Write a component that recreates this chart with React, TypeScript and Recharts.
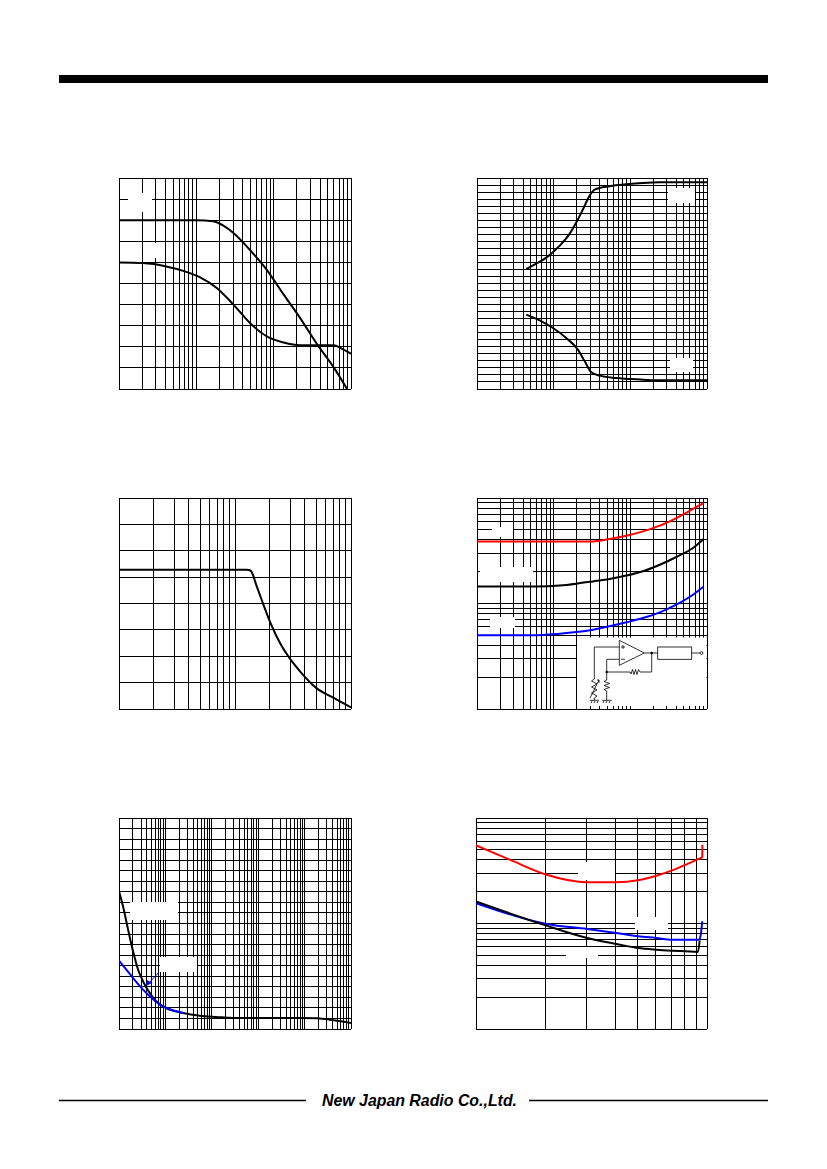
import React from "react";
import { LineChart, Line, XAxis, YAxis, CartesianGrid, ReferenceArea } from "recharts";

// grid ticks (no labels are printed in the reference, only the grid)
const logTicks1 = [1, 2, 3, 4, 5, 6, 7, 8, 9, 10];
const logTicks2 = [1, 2, 3, 4, 5, 6, 7, 8, 9, 10, 20, 30, 40, 50, 60, 70, 80, 90, 100];
const logTicks3 = [
  1, 2, 3, 4, 5, 6, 7, 8, 9, 10, 20, 30, 40, 50, 60, 70, 80, 90, 100,
  200, 300, 400, 500, 600, 700, 800, 900, 1000,
];
const logTicks5 = [
  1, 2, 3, 4, 5, 6, 7, 8, 9, 10, 20, 30, 40, 50, 60, 70, 80, 90, 100,
  200, 300, 400, 500, 600, 700, 800, 900, 1000,
  2000, 3000, 4000, 5000, 6000, 7000, 8000, 9000, 10000,
  20000, 30000, 40000, 50000, 60000, 70000, 80000, 90000, 100000,
];
const linTicks8 = [0, 1, 2, 3, 4, 5, 6, 7, 8];
const linTicks10 = [0, 1, 2, 3, 4, 5, 6, 7, 8, 9, 10];
const linTicks20 = [0, 1, 2, 3, 4, 5, 6, 7, 8, 9, 10, 11, 12, 13, 14, 15, 16, 17, 18, 19, 20];
const linTicks30 = [
  0, 1, 2, 3, 4, 5, 6, 7, 8, 9, 10, 11, 12, 13, 14, 15, 16, 17, 18, 19, 20,
  21, 22, 23, 24, 25, 26, 27, 28, 29, 30,
];

// chart 1 (top left)
const c1Upper = [
  { x: 1, y: 8 }, { x: 3.16, y: 8 }, { x: 10, y: 8 }, { x: 16.6, y: 7.95 }, { x: 22.4, y: 7.74 },
  { x: 30.2, y: 7.39 }, { x: 49, y: 6.6 }, { x: 81, y: 5.66 }, { x: 135, y: 4.47 },
  { x: 219, y: 3.37 }, { x: 363, y: 2.13 }, { x: 603, y: 1.0 }, { x: 891, y: 0 },
];
const c1Lower = [
  { x: 1, y: 6.0 }, { x: 2.04, y: 5.97 }, { x: 4.07, y: 5.81 }, { x: 6.76, y: 5.6 },
  { x: 11.2, y: 5.29 }, { x: 18.2, y: 4.8 }, { x: 30.2, y: 4.0 }, { x: 49, y: 3.14 },
  { x: 81, y: 2.5 }, { x: 135, y: 2.2 }, { x: 219, y: 2.07 }, { x: 400, y: 2.07 },
  { x: 603, y: 2.07 }, { x: 724, y: 1.95 }, { x: 1000, y: 1.67 },
];

// chart 2 (top right)
const c2Upper = [
  { x: 4.4, y: 17.06 }, { x: 5.94, y: 17.82 }, { x: 8.43, y: 18.86 }, { x: 12.0, y: 20.38 },
  { x: 16.2, y: 22.09 }, { x: 20.1, y: 23.84 }, { x: 24.2, y: 25.59 }, { x: 29.5, y: 27.49 },
  { x: 34.3, y: 28.34 }, { x: 53.7, y: 28.82 }, { x: 88.7, y: 29.1 }, { x: 146, y: 29.29 },
  { x: 242, y: 29.38 }, { x: 1000, y: 29.38 },
];
const c2Lower = [
  { x: 4.4, y: 10.57 }, { x: 6.56, y: 9.76 }, { x: 9.79, y: 8.67 }, { x: 14.6, y: 7.25 },
  { x: 20.7, y: 5.59 }, { x: 25.4, y: 3.93 }, { x: 31, y: 2.37 }, { x: 39.8, y: 1.9 },
  { x: 65.6, y: 1.56 }, { x: 146, y: 1.33 }, { x: 242, y: 1.23 }, { x: 1000, y: 1.23 },
];

// chart 3 (middle left)
const c3Curve = [
  { x: 1, y: 5.28 }, { x: 12.6, y: 5.28 }, { x: 13.6, y: 5.25 }, { x: 15.4, y: 4.65 },
  { x: 17.6, y: 3.95 }, { x: 20.3, y: 3.25 }, { x: 24.5, y: 2.49 }, { x: 30.3, y: 1.86 },
  { x: 36.5, y: 1.42 }, { x: 50.1, y: 0.8 }, { x: 70.8, y: 0.42 }, { x: 100, y: 0.06 },
];

// chart 4 (middle right)
const c4Red = [
  { x: 1, y: 38.8 }, { x: 10, y: 38.8 }, { x: 32.6, y: 38.8 }, { x: 53.7, y: 40.9 },
  { x: 88.7, y: 43.9 }, { x: 146, y: 48.3 }, { x: 242, y: 54.7 }, { x: 398, y: 64.6 },
  { x: 656, y: 78.7 }, { x: 906, y: 89.7 },
];
const c4Black = [
  { x: 1, y: 14.5 }, { x: 5.94, y: 14.5 }, { x: 12.0, y: 14.8 }, { x: 19.8, y: 15.4 },
  { x: 32.6, y: 16.2 }, { x: 53.7, y: 17.1 }, { x: 88.7, y: 18.4 }, { x: 146, y: 20.2 },
  { x: 242, y: 23.3 }, { x: 398, y: 27.6 }, { x: 656, y: 33.6 }, { x: 906, y: 40.9 },
];
const c4Blue = [
  { x: 1, y: 4.99 }, { x: 5.37, y: 4.99 }, { x: 12.0, y: 5.18 }, { x: 19.8, y: 5.37 },
  { x: 32.6, y: 5.65 }, { x: 53.7, y: 6.08 }, { x: 88.7, y: 6.63 }, { x: 146, y: 7.29 },
  { x: 242, y: 8.25 }, { x: 398, y: 9.75 }, { x: 656, y: 12.1 }, { x: 906, y: 14.5 },
];

// chart 5 (bottom left)
const c5Black = [
  { x: 1, y: 13.05 }, { x: 1.22, y: 11.63 }, { x: 1.57, y: 9.42 }, { x: 2.01, y: 7.36 },
  { x: 2.58, y: 5.62 }, { x: 3.3, y: 4.52 }, { x: 4.6, y: 3.41 }, { x: 6.41, y: 2.62 },
  { x: 10.5, y: 1.99 }, { x: 24.2, y: 1.52 }, { x: 55.5, y: 1.26 }, { x: 127, y: 1.14 },
  { x: 291, y: 1.04 }, { x: 1528, y: 1.04 }, { x: 8035, y: 1.04 }, { x: 18400, y: 1.02 },
  { x: 42200, y: 0.82 }, { x: 100000, y: 0.57 },
];
const c5Blue = [
  { x: 1, y: 6.48 }, { x: 1.44, y: 5.62 }, { x: 2.01, y: 4.83 }, { x: 3.3, y: 3.73 },
  { x: 4.6, y: 3.1 }, { x: 7.57, y: 2.31 }, { x: 10.5, y: 1.99 }, { x: 24.2, y: 1.52 },
];

// chart 6 (bottom right)
const c6Red = [
  { x: 1, y: 55.1 }, { x: 1.4, y: 40.3 }, { x: 2.02, y: 29.0 }, { x: 3.03, y: 24.6 },
  { x: 4.05, y: 24.6 }, { x: 5.03, y: 25.7 }, { x: 6.04, y: 28.4 }, { x: 7.07, y: 31.9 },
  { x: 8.08, y: 36.1 }, { x: 9.05, y: 40.3 }, { x: 9.54, y: 42.7 }, { x: 9.55, y: 55.9 },
];
const c6Blue = [
  { x: 1, y: 15.6 }, { x: 2.02, y: 9.9 }, { x: 3.03, y: 8.87 }, { x: 4.05, y: 8.13 },
  { x: 5.03, y: 7.56 }, { x: 6.04, y: 7.29 }, { x: 7.07, y: 7.03 }, { x: 8.08, y: 7.03 },
  { x: 9.23, y: 7.03 }, { x: 9.37, y: 7.56 }, { x: 9.54, y: 10.5 },
];
const c6Black = [
  { x: 1, y: 16.2 }, { x: 2.02, y: 9.54 }, { x: 3.03, y: 7.29 }, { x: 4.05, y: 6.4 },
  { x: 5.03, y: 5.86 }, { x: 6.04, y: 5.65 }, { x: 7.07, y: 5.53 }, { x: 8.08, y: 5.45 },
  { x: 9.13, y: 5.37 }, { x: 9.3, y: 6.9 },
];

type Pt = { x: number; y: number };
type Series = { data: Pt[]; color: string };

type PanelProps = {
  left: number;
  top: number;
  width: number;
  height: number;
  xDomain: [number, number];
  xTicks: number[];
  yDomain: [number, number];
  yTicks: number[];
  yLog?: boolean;
  series: Series[];
  children?: React.ReactNode;
};

const M = 2;

function Panel({ left, top, width, height, xDomain, xTicks, yDomain, yTicks, yLog, series, children }: PanelProps) {
  return (
    <div style={{ position: "absolute", left: left - M, top: top - M }}>
      <LineChart width={width + 2 * M} height={height + 2 * M} margin={{ top: M, right: M, bottom: M, left: M }}>
        <CartesianGrid stroke="#000" strokeWidth={1} />
        <XAxis type="number" dataKey="x" scale="log" domain={xDomain} ticks={xTicks} interval={0} allowDataOverflow hide />
        <YAxis
          type="number"
          dataKey="y"
          scale={yLog ? "log" : "linear"}
          domain={yDomain}
          ticks={yTicks}
          interval={0}
          allowDataOverflow
          hide
        />
        {children}
        {series.map((s, i) => (
          <Line
            key={i}
            data={s.data}
            dataKey="y"
            type="monotone"
            stroke={s.color}
            strokeWidth={2}
            dot={false}
            isAnimationActive={false}
          />
        ))}
      </LineChart>
    </div>
  );
}

// white patches where the original labels sat
const masks = [
  [128, 193, 24, 19], [143, 243, 14, 15],
  [668, 188, 27, 15], [670, 358, 23, 14],
  [492, 527, 21, 10], [480, 567, 53, 15], [490, 617, 25, 11],
  [130, 902, 48, 18], [160, 957, 37, 15],
  [578, 862, 37, 18], [635, 917, 33, 13], [566, 947, 32, 11],
];

function Overlay() {
  return (
    <svg width={827} height={1169} style={{ position: "absolute", left: 0, top: 0, pointerEvents: "none" }}>
      {masks.map(([x, y, w, h], i) => (
        <rect key={i} x={x} y={y} width={w} height={h} fill="#fff" />
      ))}
      {/* arrow in lower-left chart */}
      <line x1={159} y1={972} x2={148} y2={984} stroke="#0000ff" strokeWidth={1} />
      <polygon points="146,986 147,980 152,983" fill="#0000ff" />
      {/* test circuit in middle-right chart */}
      <g transform="translate(577,636)" stroke="#000" strokeWidth={0.8} fill="none">
        <polygon points="42.3,4.3 42.3,29.3 67.3,17" />
        <line x1={44} y1={11} x2={48} y2={11} />
        <line x1={46} y1={9} x2={46} y2={13} />
        <line x1={44} y1={23.3} x2={48} y2={23.3} />
        <polyline points="42.3,11 17.3,11 17.3,43" />
        <polyline points="13,62 22,44" />
        <polyline points="20,44 22,44 22,47" />
        <polyline points="17.3,43 14.5,45 20,48 14.5,51 20,54 14.5,57 20,60 17.3,62 17.3,64.3" />
        <line x1={67.3} y1={17} x2={80.7} y2={17} />
        <circle cx={74.7} cy={17} r={0.9} fill="#000" />
        <rect x={80.7} y={11} width={34} height={12.3} />
        <line x1={114.7} y1={17} x2={123} y2={17} />
        <circle cx={124.5} cy={17} r={1.4} />
        <polyline points="74.7,17 74.7,36 63,36" />
        <polyline points="63,36 61.5,33.5 60,38.5 58.5,33.5 57,38.5 55.5,33.5 54,38 53,36 29.7,36" />
        <circle cx={29.7} cy={36} r={0.9} fill="#000" />
        <polyline points="29.7,36 29.7,23.3 42.3,23.3" />
        <polyline points="29.7,36 29.7,44 27,45.5 32.5,47.5 27,49.5 32.5,51.5 27,53.5 29.7,55 29.7,64.3" />
        <line x1={13} y1={64.3} x2={22} y2={64.3} />
        <line x1={25.3} y1={64.3} x2={34.7} y2={64.3} />
        <path d="M14,67 L15,65 M17,67 L18,65 M20,67 L21,65 M26,67 L27,65 M29,67 L30,65 M32,67 L33,65" />
      </g>
      {/* footer */}
      <line x1={59} y1={1100.5} x2={306} y2={1100.5} stroke="#000" strokeWidth={1.4} />
      <line x1={529} y1={1100.5} x2={768} y2={1100.5} stroke="#000" strokeWidth={1.4} />
      <text
        x={322}
        y={1106}
        textLength={195}
        lengthAdjust="spacingAndGlyphs"
        fontFamily="'Liberation Sans', sans-serif"
        fontStyle="italic"
        fontWeight="bold"
        fontSize={16}
        fill="#000"
      >
        New Japan Radio Co.,Ltd.
      </text>
    </svg>
  );
}

export default function App() {
  return (
    <div style={{ position: "absolute", left: 0, top: 0, width: 827, height: 1169, background: "#fff" }}>
      <style>{`.recharts-cartesian-grid line { shape-rendering: crispEdges; }`}</style>
      <div style={{ position: "absolute", left: 59, top: 75, width: 709, height: 8, background: "#000" }} />

      <Panel left={119} top={178} width={232} height={211} xDomain={[1, 1000]} xTicks={logTicks3}
        yDomain={[0, 10]} yTicks={linTicks10}
        series={[{ data: c1Upper, color: "#000" }, { data: c1Lower, color: "#000" }]} />

      <Panel left={477} top={178} width={230} height={211} xDomain={[1, 1000]} xTicks={logTicks3}
        yDomain={[0, 30]} yTicks={linTicks30}
        series={[{ data: c2Upper, color: "#000" }, { data: c2Lower, color: "#000" }]} />

      <Panel left={119} top={498} width={232} height={211} xDomain={[1, 100]} xTicks={logTicks2}
        yDomain={[0, 8]} yTicks={linTicks8}
        series={[{ data: c3Curve, color: "#000" }]} />

      <Panel left={477} top={498} width={230} height={211} xDomain={[1, 1000]} xTicks={logTicks3}
        yDomain={[1, 100]} yTicks={logTicks2} yLog
        series={[{ data: c4Red, color: "#ff0000" }, { data: c4Black, color: "#000" }, { data: c4Blue, color: "#0000ff" }]}>
        <ReferenceArea x1={20.3} x2={985} y1={1.07} y2={4.75} fill="#fff" fillOpacity={1} stroke="none" ifOverflow="hidden" />
      </Panel>

      <Panel left={119} top={818} width={232} height={211} xDomain={[1, 100000]} xTicks={logTicks5}
        yDomain={[0, 20]} yTicks={linTicks20}
        series={[{ data: c5Black, color: "#000" }, { data: c5Blue, color: "#0000ff" }]} />

      <Panel left={476} top={818} width={231} height={211} xDomain={[1, 10]} xTicks={logTicks1}
        yDomain={[1, 100]} yTicks={logTicks2} yLog
        series={[{ data: c6Red, color: "#ff0000" }, { data: c6Blue, color: "#0000ff" }, { data: c6Black, color: "#000" }]} />

      <Overlay />
    </div>
  );
}
